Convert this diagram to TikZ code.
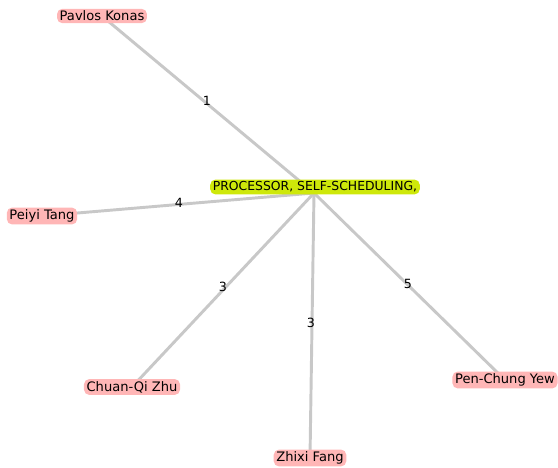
\documentclass[tikz,border=0pt]{standalone}
\usepackage{fontspec}
\setmainfont{DejaVu Sans}
\definecolor{pinkfill}{RGB}{255,182,182}
\definecolor{hubfill}{RGB}{206,232,10}
\definecolor{edgegray}{RGB}{200,200,200}
\pgfdeclarelayer{bg}
\pgfsetlayers{bg,main}
\begin{document}
\begin{tikzpicture}[x=0.75pt,y=-0.75pt,
  person/.style={fill=pinkfill,rounded corners=4pt,inner xsep=2pt,inner ysep=1.6pt,font=\fontsize{9.8}{11}\selectfont,text=black},
  hub/.style={fill=hubfill,rounded corners=4pt,inner xsep=2pt,inner ysep=1.6pt,font=\fontsize{9.3}{11}\selectfont,text=black},
  edge/.style={draw=edgegray,line width=2.2pt},
  elabel/.style={font=\fontsize{9.5}{11}\selectfont,text=black,inner sep=0.5pt}]
\useasboundingbox (0,0) rectangle (558,468);
\coordinate (c) at (314,193);
\node[hub] (h) at (315,187) {PROCESSOR, SELF-SCHEDULING,};
\node[person] (pk) at (102,16) {Pavlos Konas};
\node[person] (pt) at (42,216) {Peiyi Tang};
\node[person] (cz) at (132,387) {Chuan-Qi Zhu};
\node[person] (zf) at (310,458) {Zhixi Fang};
\node[person] (py) at (505,380) {Pen-Chung Yew};
\begin{pgfonlayer}{bg}
\path[edge] (c) -- (pk.center);
\path[edge] (c) -- (pt.center);
\path[edge] (c) -- (cz.center);
\path[edge] (c) -- (zf.center);
\path[edge] (c) -- (py.center);
\end{pgfonlayer}
\node[elabel] (l1) at (207,101) {1};
\node[elabel] (l4) at (179,203) {4};
\node[elabel] (l3a) at (223,287) {3};
\node[elabel] (l3b) at (311,323) {3};
\node[elabel] (l5) at (408,284) {5};
\end{tikzpicture}
\end{document}
